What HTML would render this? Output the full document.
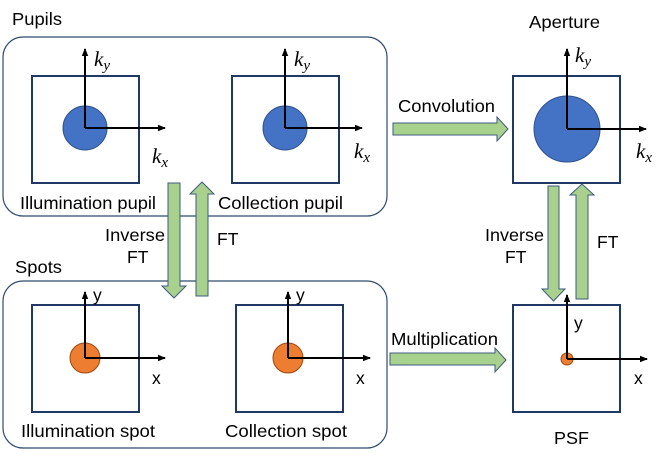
<!DOCTYPE html>
<html><head><meta charset="utf-8"><style>
html,body{margin:0;padding:0;background:#fff;}
svg{display:block;}
text{font-family:"Liberation Sans",sans-serif;font-size:17.5px;fill:#000;}
.m{font-family:"Liberation Serif",serif;font-style:italic;font-size:21px;}
.sub{font-size:15px;}
</style></head><body>
<svg width="664" height="457" viewBox="0 0 664 457" xmlns="http://www.w3.org/2000/svg">
<defs>
<marker id="ah" markerWidth="8" markerHeight="8" refX="7" refY="4" orient="auto" markerUnits="userSpaceOnUse">
<path d="M0,0.8 L8,4 L0,7.2 Z" fill="#000"/></marker>
</defs>
<rect x="3" y="37" width="384" height="179" rx="20" fill="none" stroke="#2f4a6e" stroke-width="1.2"/>
<rect x="3" y="281" width="384" height="167" rx="20" fill="none" stroke="#2f4a6e" stroke-width="1.2"/>
<text x="12" y="25" textLength="50" lengthAdjust="spacingAndGlyphs">Pupils</text>
<text x="15" y="273" textLength="47" lengthAdjust="spacingAndGlyphs">Spots</text>

<g fill="none" stroke="#1f3864" stroke-width="2">
<rect x="32" y="76" width="107" height="107"/>
<rect x="232" y="76" width="107" height="107"/>
<rect x="32" y="305" width="107" height="107"/>
<rect x="236" y="305" width="107" height="107"/>
<rect x="513" y="76" width="107" height="107"/>
<rect x="513" y="305" width="107" height="107"/>
</g>
<g stroke="#2f528f" stroke-width="1" fill="#4472c4">
<circle cx="85" cy="128" r="22"/>
<circle cx="285" cy="128" r="22"/>
<circle cx="567" cy="129" r="33"/>
</g>
<g stroke="#9e480e" stroke-width="1" fill="#ed7d31">
<circle cx="85" cy="358" r="15"/>
<circle cx="288" cy="358" r="15"/>
<circle cx="567" cy="359" r="6"/>
</g>
<g stroke="#000" stroke-width="2" fill="none" marker-end="url(#ah)">
<path d="M85,128 V49"/><path d="M85,128 H165"/>
<path d="M285,128 V49"/><path d="M285,128 H362"/>
<path d="M567,129 V49"/><path d="M567,129 H646"/>
<path d="M85,358 V292"/><path d="M85,358 H165"/>
<path d="M288,358 V292"/><path d="M288,358 H370"/>
<path d="M567,359 V295"/><path d="M567,359 H647"/>
</g>
<text class="m" x="94" y="66">k<tspan class="sub" dy="4">y</tspan></text>
<text class="m" x="294" y="66">k<tspan class="sub" dy="4">y</tspan></text>
<text class="m" x="575" y="62">k<tspan class="sub" dy="4">y</tspan></text>
<text class="m" x="152" y="163">k<tspan class="sub" dy="4">x</tspan></text>
<text class="m" x="354" y="158">k<tspan class="sub" dy="4">x</tspan></text>
<text class="m" x="636" y="158">k<tspan class="sub" dy="4">x</tspan></text>
<text x="93" y="301">y</text>
<text x="296" y="301">y</text>
<text x="574" y="329">y</text>
<text x="152" y="384">x</text>
<text x="356" y="384">x</text>
<text x="634" y="384">x</text>

<text x="20" y="209" textLength="136" lengthAdjust="spacingAndGlyphs">Illumination pupil</text>
<text x="218" y="209" textLength="125" lengthAdjust="spacingAndGlyphs">Collection pupil</text>
<text x="21" y="437" textLength="134" lengthAdjust="spacingAndGlyphs">Illumination spot</text>
<text x="225" y="437" textLength="122" lengthAdjust="spacingAndGlyphs">Collection spot</text>
<text x="529" y="28" textLength="71" lengthAdjust="spacingAndGlyphs">Aperture</text>
<text x="554" y="444" textLength="35" lengthAdjust="spacingAndGlyphs">PSF</text>

<g fill="#a9d18e" stroke="#3d5a80" stroke-width="1">
<path d="M168,183 H180 V286 H186 L174,298 L162,286 H168 Z"/>
<path d="M196,296 H208 V194 H214 L202,182 L190,194 H196 Z"/>
<path d="M548,186 H559 V289 H565 L553.5,301 L542,289 H548 Z"/>
<path d="M576,299 H588 V195 H594 L582,184 L570,195 H576 Z"/>
<path d="M393,123 H497 V117 L508,129 L497,141 V135 H393 Z"/>
<path d="M390,353 H495 V348 L506,360 L495,372 V365 H390 Z"/>
</g>
<text x="105" y="241" textLength="60" lengthAdjust="spacingAndGlyphs">Inverse</text>
<text x="127" y="263">FT</text>
<text x="217" y="245">FT</text>
<text x="485" y="241" textLength="59" lengthAdjust="spacingAndGlyphs">Inverse</text>
<text x="505" y="263">FT</text>
<text x="597" y="248">FT</text>
<text x="398" y="112" textLength="97" lengthAdjust="spacingAndGlyphs">Convolution</text>
<text x="391" y="345" textLength="107" lengthAdjust="spacingAndGlyphs">Multiplication</text>
</svg>
</body></html>
